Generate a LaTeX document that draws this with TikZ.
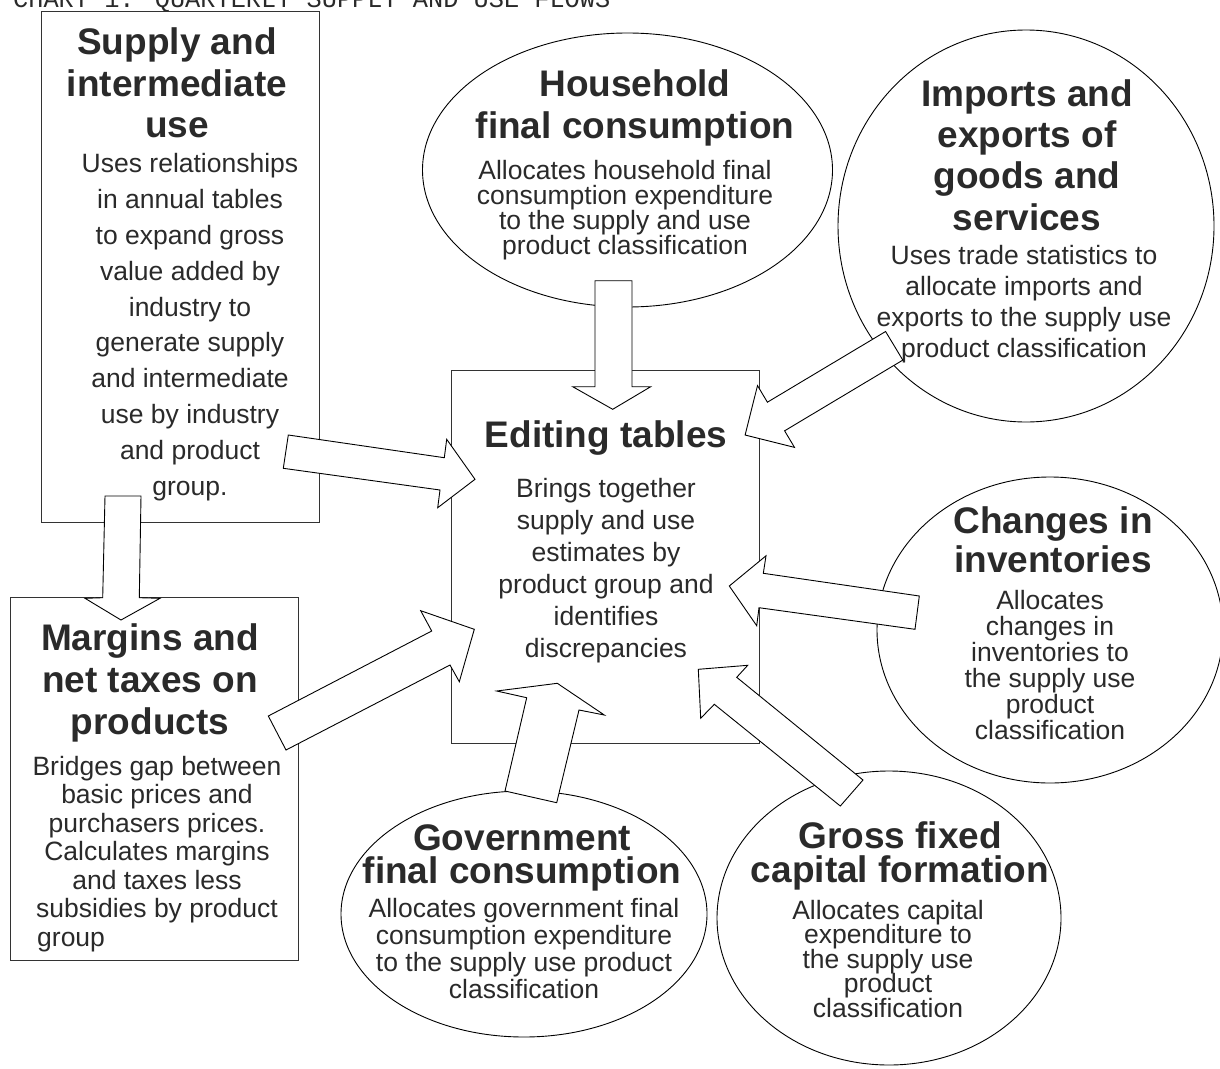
\documentclass[tikz,border=0pt]{standalone}
\usepackage{fontspec}
\setmainfont{Liberation Sans}
\newfontfamily\titlemono{Liberation Mono}
\usetikzlibrary{shapes.geometric}
\definecolor{ink}{HTML}{2A2A2A}
\definecolor{rulegray}{HTML}{333333}
% bold heading and plain body fonts with a fixed leading
\newcommand\headf[1]{\fontsize{37}{#1}\bfseries\selectfont\lineskiplimit=-100pt\relax}
\newcommand\bodyf[1]{\fontsize{26.5}{#1}\selectfont\lineskiplimit=-100pt\relax}
\begin{document}
\begin{tikzpicture}[x=1pt,y=-1pt,
  panel/.style={draw=rulegray, line width=1.3pt, fill=white, inner sep=0pt, anchor=north west},
  bubble/.style={draw=black, line width=0.9pt, fill=white, ellipse, inner sep=0pt},
  % multi-line texts are placed by the baseline of their last line
  hdtext/.style={font=\headf{#1}, text=ink, align=center, inner sep=0pt, anchor=base},
  bdtext/.style={font=\bodyf{#1}, text=ink, align=center, inner sep=0pt, anchor=base},
  flow/.style={draw=black, line width=0.9pt, fill=white, line join=miter}]
\useasboundingbox (0,0) rectangle (1220,1068);
\clip (0,0) rectangle (1220,1068);

% title
\node[anchor=base west, inner sep=0pt, text=ink, font=\titlemono\fontsize{25.3}{28}\selectfont]
  (title) at (13,7.5) {CHART 1: QUARTERLY SUPPLY AND USE FLOWS};

% rectangular panels
\node[panel, minimum width=278, minimum height=511] (supply) at (41,11) {};
\node[panel, minimum width=288, minimum height=363] (margins) at (10,597) {};
\node[panel, minimum width=308, minimum height=373] (editing) at (451,370) {};

% elliptical panels
\node[bubble, minimum width=410, minimum height=274] (household) at (627.5,170) {};
\node[bubble, minimum width=376, minimum height=392] (trade) at (1026,226) {};
\node[bubble, minimum width=346, minimum height=306] (inventories) at (1050,630) {};
\node[bubble, minimum width=366, minimum height=246] (government) at (524,914) {};
\node[bubble, minimum width=344, minimum height=294] (capital) at (889,918) {};

% texts
\node[hdtext=41.5] (supply-h) at (177,137.5) {Supply and\\intermediate\\use};
\node[bdtext=35.8] (supply-b) at (190,495) {Uses relationships\\in annual tables\\to expand gross\\value added by\\industry to\\generate supply\\and intermediate\\use by industry\\and product\\group.};

\node[hdtext=42] (margins-h) at (150,734) {Margins and\\net taxes on\\products};
\node[bdtext=28.5] (margins-b) at (157,917.5) {Bridges gap between\\basic prices and\\purchasers prices.\\Calculates margins\\and taxes less\\subsidies by product};
\node[anchor=base west, inner sep=0pt, text=ink, font=\bodyf{28.5}] (margins-e) at (37,946) {group};

\node[hdtext=40] (editing-h) at (606,447) {Editing tables};
\node[bdtext=32] (editing-b) at (606,657) {Brings together\\supply and use\\estimates by\\product group and\\identifies\\discrepancies};

\node[hdtext=41.5] (household-h) at (635,138.2) {Household\\final consumption};
\node[bdtext=25] (household-b) at (625,254) {Allocates household final\\consumption expenditure\\to the supply and use\\product classification};

\node[hdtext=41.3] (trade-h) at (1027,230) {Imports and\\exports of\\goods and\\services};
\node[bdtext=30.7] (trade-b) at (1024,357) {Uses trade statistics to\\allocate imports and\\exports to the supply use\\product classification};

\node[hdtext=39] (inventories-h) at (1053,572) {Changes in\\inventories};
\node[bdtext=26] (inventories-b) at (1050,739) {Allocates\\changes in\\inventories to\\the supply use\\product\\classification};

\node[hdtext=33] (government-h) at (522,883) {Government\\final consumption};
\node[bdtext=27] (government-b) at (524,998) {Allocates government final\\consumption expenditure\\to the supply use product\\classification};

\node[hdtext=34] (capital-h) at (900,882) {Gross fixed\\capital formation};
\node[bdtext=24.5] (capital-b) at (888,1017) {Allocates capital\\expenditure to\\the supply use\\product\\classification};

% block arrows
\draw[flow] (105,496) -- (141,496) -- (139.3,597.7) -- (160,598.3) -- (121,620)
  -- (85,598.3) -- (102.7,597.7) -- cycle;
\draw[flow] (288.3,435) -- (444.3,457.7) -- (446.7,439.3) -- (475,479.3)
  -- (437.7,507.7) -- (440,490) -- (283.3,468.3) -- cycle;
\draw[flow] (268.3,716) -- (431.7,631) -- (420.7,610.7) -- (474.3,629.3)
  -- (459.3,681.7) -- (450,665) -- (286,750) -- cycle;
\draw[flow] (595,280.7) -- (632,280.7) -- (632,386.7) -- (650.7,386.7)
  -- (612.7,409.3) -- (572.7,386.7) -- (595,386.7) -- cycle;
\draw[flow] (885.6,331.5) -- (767.4,402.2) -- (757.5,385.6) -- (745.1,435)
  -- (794.5,447.4) -- (784.6,430.8) -- (902.8,360.1) -- cycle;
\draw[flow] (919.3,596) -- (763.3,573.3) -- (766,555.8) -- (729.3,586)
  -- (756.7,625.7) -- (759,607.7) -- (915,629.3) -- cycle;
\draw[flow] (698.3,669.3) -- (747.7,665.3) -- (736.7,677.3) -- (863,780)
  -- (840.3,806) -- (714.3,704.3) -- (700.7,718.3) -- cycle;
\draw[flow] (505,791) -- (526.7,697.7) -- (496.7,691) -- (557.3,683.3)
  -- (604.3,715) -- (579,710) -- (556.7,802.7) -- cycle;
\end{tikzpicture}
\end{document}
